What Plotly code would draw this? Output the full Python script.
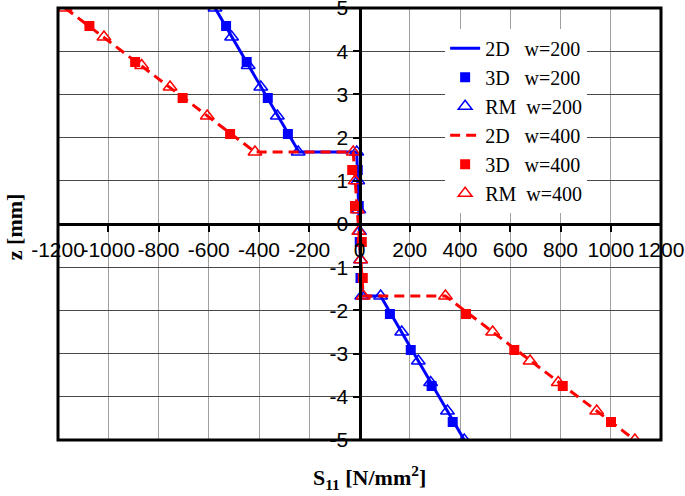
import plotly.graph_objects as go

# ---- data ----
z_2d = [5, 1.667, 1.667, -1.667, -1.667, -5]
s_2d_w200 = [-575, -241, -11, 9, 84, 417]
s_2d_w400 = [-1172, -416, -25, 15, 342, 1096]

z_3d = [4.583, 3.75, 2.917, 2.083, 1.25, 0.417, -0.417, -1.25, -2.083, -2.917, -3.75, -4.583]
s_3d_w200 = [-531, -449, -365, -285, -7, -3, 1, 4, 121, 204, 287, 371]
s_3d_w400 = [-1075, -893, -704, -515, -29, -18, 9, 13, 424, 616, 809, 1001]

z_rm = [5, 4.33, 3.67, 3.17, 2.5, 1.667, 1.667, 1.0, 0.33, -0.17, -0.83, -1.667,
        -1.667, -2.5, -3.17, -3.67, -4.33, -5]
s_rm_w200 = [-575, -509, -443, -393, -327, -244, -11, -7, -3, 0, 4, 9,
             84, 168, 234, 283, 350, 417]
s_rm_w400 = [-1172, -1017, -867, -754, -606, -416, -25, -17, -9, -3, 5, 15,
             342, 530, 679, 791, 944, 1096]

x_tickvals = [-1200, -1000, -800, -600, -400, -200, 0, 200, 400, 600, 800, 1000, 1200]
x_ticktext = ["-1200", "-1000", "-800", "-600", "-400", "-200", "0",
              "200", "400", "600", "800", "1000", "1200"]
y_tickvals = [-5, -4, -3, -2, -1, 0, 1, 2, 3, 4, 5]
y_ticktext = ["-5", "-4", "-3", "-2", "-1", "0", "1", "2", "3", "4", "5"]

names = ["2D\u00a0\u00a0\u00a0w=200", "3D\u00a0\u00a0\u00a0w=200", "RM\u00a0\u00a0w=200",
         "2D\u00a0\u00a0\u00a0w=400", "3D\u00a0\u00a0\u00a0w=400", "RM\u00a0\u00a0w=400"]

BLUE = "#0000FF"
RED = "#FF0000"

fig = go.Figure()
fig.add_trace(go.Scatter(x=s_2d_w200, y=z_2d, mode="lines", name=names[0],
                         line=dict(color=BLUE, width=3)))
fig.add_trace(go.Scatter(x=s_3d_w200, y=z_3d, mode="markers", name=names[1],
                         marker=dict(symbol="square", color=BLUE, size=10)))
fig.add_trace(go.Scatter(x=s_rm_w200, y=z_rm, mode="markers", name=names[2],
                         marker=dict(symbol="triangle-up-open", color=BLUE, size=12,
                                     line=dict(width=1.5, color=BLUE))))
fig.add_trace(go.Scatter(x=s_2d_w400, y=z_2d, mode="lines", name=names[3],
                         line=dict(color=RED, width=3, dash="10px,6px")))
fig.add_trace(go.Scatter(x=s_3d_w400, y=z_3d, mode="markers", name=names[4],
                         marker=dict(symbol="square", color=RED, size=10)))
fig.add_trace(go.Scatter(x=s_rm_w400, y=z_rm, mode="markers", name=names[5],
                         marker=dict(symbol="triangle-up-open", color=RED, size=12,
                                     line=dict(width=1.5, color=RED))))

tickfont = dict(family="Arial, Liberation Sans, sans-serif", size=21, color="black")

fig.update_layout(
    width=685, height=496,
    margin=dict(l=58, r=24, t=8, b=56, autoexpand=False),
    paper_bgcolor="white", plot_bgcolor="white",
    showlegend=True,
    legend=dict(x=0.642, y=0.952, xanchor="left", yanchor="top",
                bgcolor="white", borderwidth=0,
                font=dict(family="Liberation Serif, Times New Roman, serif", size=20, color="black"),
                tracegroupgap=0),
    xaxis=dict(range=[-1200, 1200], tickmode="array", tickvals=x_tickvals, ticktext=x_ticktext,
               anchor="free", position=0.5, automargin=False, ticklabeloverflow="allow",
               showline=True, linecolor="black", linewidth=3,
               ticks="outside", ticklen=6, tickwidth=2, tickcolor="black",
               tickfont=tickfont, tickangle=0,
               showgrid=True, gridcolor="#a0a0a0", gridwidth=1, zeroline=False),
    yaxis=dict(range=[-5, 5], tickmode="array", tickvals=y_tickvals, ticktext=y_ticktext,
               anchor="free", position=0.5, automargin=False, ticklabeloverflow="allow",
               showline=True, linecolor="black", linewidth=3,
               ticks="outside", ticklen=6, tickwidth=2, tickcolor="black",
               tickfont=tickfont,
               showgrid=True, gridcolor="#484848", gridwidth=1, zeroline=False),
    shapes=[dict(type="rect", xref="paper", yref="paper", x0=0, y0=0, x1=1, y1=1,
                 line=dict(color="black", width=3), fillcolor="rgba(0,0,0,0)", layer="above")],
    annotations=[
        dict(text="<b>S<sub>11</sub> [N/mm<sup>2</sup>]</b>", xref="paper", yref="paper",
             x=0.516, y=-0.087, xanchor="center", yanchor="middle", showarrow=False,
             font=dict(family="Liberation Serif, Times New Roman, serif", size=22, color="black")),
        dict(text="<b>z [mm]</b>", xref="paper", yref="paper",
             x=-0.073, y=0.495, xanchor="center", yanchor="middle", showarrow=False,
             textangle=-90,
             font=dict(family="Liberation Serif, Times New Roman, serif", size=22, color="black")),
    ],
)

fig.write_html("out.html", config={"displayModeBar": False},
               post_script="document.body.style.margin='0px';")
